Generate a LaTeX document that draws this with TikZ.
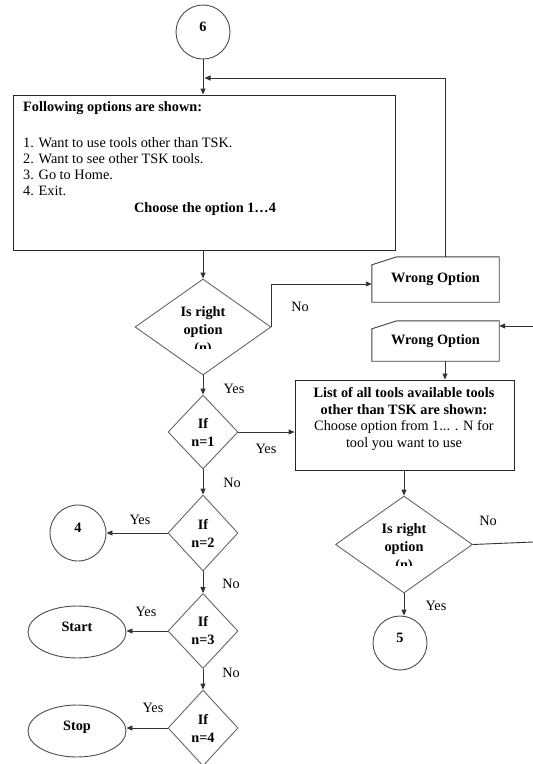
\documentclass[tikz,border=0pt]{standalone}
\usepackage{fontspec}
\setmainfont{Liberation Serif}
\usetikzlibrary{arrows.meta,shapes.geometric}
% outline of a card with a cut upper-left corner, drawn round a named node
\newcommand{\cardoutline}[1]{%
  \draw[cardline] (#1.south west) -- ([yshift=-8pt]#1.north west)
    -- ([xshift=25pt]#1.north west) -- (#1.north east)
    -- (#1.south east) -- cycle;}
\begin{document}
\begin{tikzpicture}[x=1pt,y=-1pt,
  every node/.style={font=\fontsize{14.3}{16}\selectfont, text=black},
  line/.style={draw=black!80, line width=0.9pt},
  arr/.style={line, -{Triangle[length=6pt,width=5pt]}},
  procbox/.style={rectangle, draw=black!85, line width=0.9pt, inner sep=0pt},
  cardline/.style={draw=black!75, line width=0.9pt},
  card/.style={rectangle, inner sep=0pt, minimum width=127pt,
    font=\fontsize{14.3}{16}\selectfont\bfseries},
  decision/.style={diamond, draw=black!60, line width=0.9pt, inner sep=0pt,
    align=center, font=\fontsize{14.3}{18}\selectfont\bfseries},
  dtext/.style={align=center, inner sep=0pt,
    font=\fontsize{14.3}{18}\selectfont\bfseries},
  connector/.style={circle, draw=black!70, line width=0.9pt, minimum size=#1,
    inner sep=0pt, text depth=10pt, font=\fontsize{14.3}{16}\selectfont\bfseries},
  terminal/.style={ellipse, draw=black!70, line width=0.9pt, minimum width=98pt,
    minimum height=52pt, inner sep=0pt, text depth=10pt,
    font=\fontsize{14.3}{16}\selectfont\bfseries},
  lbl/.style={inner sep=0pt, font=\fontsize{14.3}{16}\selectfont}
]
\useasboundingbox (0,0) rectangle (533,764);

% ---- main menu ----
\node[connector=54pt] (c6) at (203,32) {6};
\node[procbox, minimum width=382pt, minimum height=155pt] (opts) at (204,172.5) {};
\node[anchor=west, inner sep=0pt, font=\fontsize{14.3}{16}\selectfont\bfseries]
  (opthead) at (23,108) {Following options are shown:};
\node[anchor=north west, align=left, inner sep=0pt] (optlist) at (23,137)
  {1. Want to use tools other than TSK.\\2. Want to see other TSK tools.\\3. Go to Home.\\4. Exit.};
\node[inner sep=0pt, font=\fontsize{14.3}{16}\selectfont\bfseries] (optchoose)
  at (205,209) {Choose the option 1…4};

% ---- first validity check ----
\node[decision, minimum width=136pt, minimum height=96pt] (d1) at (203,327) {};
\begin{scope}
  \clip (140,295) rectangle (265,348);
  \node[dtext] (d1t) at (203,331) {Is right\\option\\(n)};
\end{scope}

\node[card, minimum height=45pt] (wo1) at (435.5,279.5) {Wrong Option};
\cardoutline{wo1}
\node[card, minimum height=40pt] (wo2) at (435.5,341) {Wrong Option};
\cardoutline{wo2}

% ---- tool list ----
\node[procbox, minimum width=219pt, minimum height=90pt] (list) at (404.5,425) {};
\node[align=center, inner sep=0pt, font=\fontsize{14.3}{16.7}\selectfont] (listtxt)
  at (404,419) {\textbf{List of all tools available tools}\\\textbf{other than TSK are shown:}\\Choose option from 1... . N for\\tool you want to use};

% ---- option tests ----
\node[decision, minimum width=70pt, minimum height=74pt] (n1) at (203,432) {If\\n=1};
\node[decision, minimum width=70pt, minimum height=76pt] (n2) at (203,533) {If\\n=2};
\node[decision, minimum width=70pt, minimum height=75pt] (n3) at (203,631) {If\\n=3};
\node[decision, minimum width=70pt, minimum height=76pt] (n4) at (203,728) {If\\n=4};

\node[connector=56pt] (c4) at (78,533) {4};
\node[terminal] (start) at (77,632) {Start};
\node[terminal] (stop) at (77,731) {Stop};

% ---- second validity check ----
\node[decision, minimum width=137pt, minimum height=97pt] (d2) at (404,544.5) {};
\begin{scope}
  \clip (340,510) rectangle (465,565);
  \node[dtext] (d2t) at (404,548) {Is right\\option\\(n)};
\end{scope}
\node[connector=54pt] (c5) at (400,643) {5};

% ---- connectors ----
\coordinate (loopin) at (204.5,78);
\coordinate (rin) at (533,326);
\coordinate (rout) at (533,542);

\draw[arr] (c6.south) -- (c6.south |- opts.north);
\draw[arr] ([xshift=9.5pt]wo1.north) |- (loopin);
\draw[arr] (d1.north |- opts.south) -- (d1.north);
\draw[arr] (d1.east) |- ([yshift=-4.5pt]wo1.west);
\draw[arr] (rin) -- (rin -| wo2.east);
\draw[arr] ([xshift=9.5pt]wo2.south) -- ([xshift=9.5pt]wo2.south |- list.north);
\draw[arr] (d1.south) -- (n1.north);
\draw[arr] (n1.east) -- (n1.east -| list.west);
\draw[arr] (n1.south) -- (n2.north);
\draw[arr] (n2.west) -- (c4.east);
\draw[arr] (n2.south) -- (n3.north);
\draw[arr] (n3.west) -- (n3.west -| start.east);
\draw[arr] (n3.south) -- (n4.north);
\draw[arr] (n4.west) -- (n4.west -| stop.east);
\draw[arr] (list.south -| d2.north) -- (d2.north);
\draw[line] (d2.east) -- (rout);
\draw[arr] (d2.south) -- (d2.south |- c5.north);

% ---- branch labels ----
\node[lbl] (lno1) at (300,307) {No};
\node[lbl] (lyes1) at (234,389) {Yes};
\node[lbl] (lyes2) at (266,449) {Yes};
\node[lbl] (lno2) at (232,483) {No};
\node[lbl] (lyes3) at (140,520) {Yes};
\node[lbl] (lno3) at (231,584) {No};
\node[lbl] (lyes4) at (146,612) {Yes};
\node[lbl] (lno4) at (231,673) {No};
\node[lbl] (lyes5) at (153,708) {Yes};
\node[lbl] (lno5) at (488,521) {No};
\node[lbl] (lyes6) at (436,606) {Yes};
\end{tikzpicture}
\end{document}
